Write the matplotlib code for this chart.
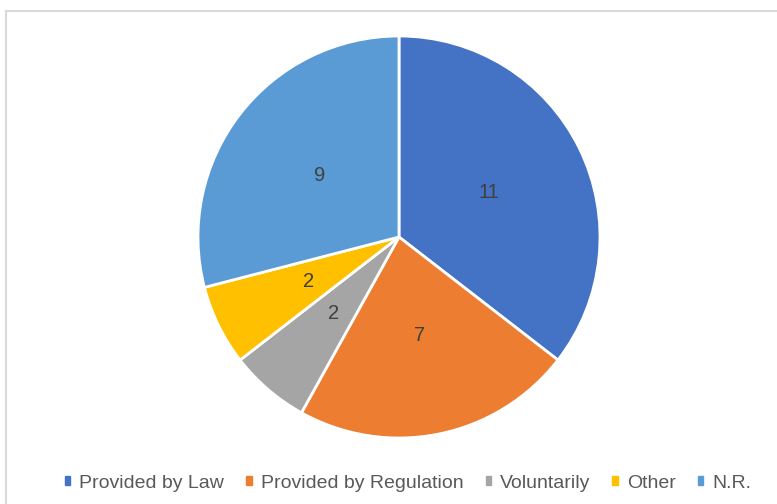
import matplotlib.pyplot as plt
from matplotlib.patches import Rectangle
from matplotlib.lines import Line2D

categories = ["Provided by Law", "Provided by Regulation", "Voluntarily", "Other", "N.R."]
values = [11, 7, 2, 2, 9]
colors = ["#4472C4", "#ED7D31", "#A5A5A5", "#FFC000", "#5B9BD5"]

plt.rcParams['font.family'] = ['Liberation Sans', 'DejaVu Sans']

W, H = 777, 504
fig = plt.figure(figsize=(W / 100, H / 100), dpi=100)
fig.patch.set_facecolor("white")

# chart border (cropped on right / bottom)
fig.add_artist(Line2D([6 / W, 6 / W], [0, 1 - 11 / H], color="#D9D9D9", lw=1.5,
                      transform=fig.transFigure))
fig.add_artist(Line2D([6 / W, 1], [1 - 11 / H, 1 - 11 / H], color="#D9D9D9", lw=1.5,
                      transform=fig.transFigure))

# pie axes: center (399, 237), radius 201 px
cx, cy, r = 399, 237, 201
ax = fig.add_axes([(cx - r) / W, 1 - (cy + r) / H, 2 * r / W, 2 * r / H])
wedges, texts = ax.pie(values, colors=colors, startangle=90, counterclock=False,
                       labels=[str(v) for v in values], labeldistance=0.5,
                       wedgeprops=dict(edgecolor="white", linewidth=2),
                       textprops=dict(color="#404040", fontsize=14.5))
for t in texts:
    t.set_ha("center")
    t.set_va("center")
ax.set_xlim(-1, 1)
ax.set_ylim(-1, 1)
ax.set_aspect("equal")
ax.axis("off")

handles = [Rectangle((0, 0), 1, 1, color=c) for c in colors]
fig.legend(handles, categories, loc="center", bbox_to_anchor=(408 / W, 1 - 483 / H),
           ncol=5, frameon=False, fontsize=14, labelcolor="#595959",
           handlelength=0.28, handleheight=0.35, handletextpad=0.45, columnspacing=1.15)

fig.savefig("out.png", dpi=100)
